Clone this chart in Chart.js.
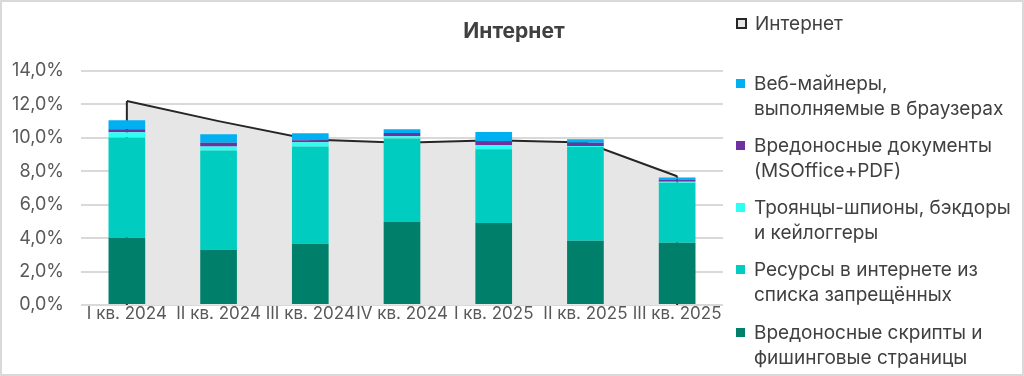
<!DOCTYPE html>
<html><head><meta charset="utf-8">
<script src="https://cdn.jsdelivr.net/npm/chart.js@4"></script>
<style>
html,body{margin:0;padding:0;background:#fff;}
#wrap{position:relative;width:1024px;height:376px;box-sizing:border-box;border:2px solid #d9d9d9;overflow:hidden;font-family:Inter,"Open Sans",sans-serif;}
#c{position:absolute;left:-2px;top:-2px;}
#title{position:absolute;left:0;width:1024px;top:16px;text-align:center;font-weight:bold;font-size:21px;color:#404040;}
#legend{position:absolute;left:734px;top:0;width:290px;}
.li{position:absolute;left:0;display:flex;align-items:flex-start;font-size:19px;line-height:25px;color:#404040;white-space:nowrap;}
.sw{width:9px;height:9px;margin-top:8px;margin-right:9px;flex:none;box-sizing:border-box;}
</style></head>
<body><div id="wrap"><canvas id="c" width="1024" height="376"></canvas><div id="title">Интернет</div><div id="legend"></div></div>
<script>
const categories = ['I кв. 2024','II кв. 2024','III кв. 2024','IV кв. 2024','I кв. 2025','II кв. 2025','III кв. 2025'];
const internet = [12.2, 11.0, 9.9, 9.7, 9.86, 9.72, 7.7];
const scripts  = [4.02, 3.31, 3.67, 4.96, 4.90, 3.84, 3.72];
const blocked  = [6.00, 5.93, 5.81, 5.00, 4.42, 5.62, 3.59];
const trojans  = [0.31, 0.24, 0.26, 0.14, 0.24, 0.06, 0.06];
const docs     = [0.18, 0.22, 0.12, 0.19, 0.24, 0.18, 0.14];
const miners   = [0.54, 0.51, 0.41, 0.22, 0.55, 0.22, 0.12];
const yTicks = [0, 2, 4, 6, 8, 10, 12, 14];

const seriesNames = {
  internet: 'Интернет',
  miners: 'Веб-майнеры,\nвыполняемые в браузерах',
  docs: 'Вредоносные документы\n(MSOffice+PDF)',
  trojans: 'Троянцы-шпионы, бэкдоры\nи кейлоггеры',
  blocked: 'Ресурсы в интернете из\nсписка запрещённых',
  scripts: 'Вредоносные скрипты и\nфишинговые страницы'
};
const colors = {internet:'#E7E6E6', miners:'#00B0F0', docs:'#7030A0', trojans:'#2EFFF2', blocked:'#00CCBF', scripts:'#00806B'};

const FONT = 'Inter, "Open Sans", sans-serif';

const edgePlugin = {
  id: 'edges',
  afterDatasetDraw(chart, args) {
    if (args.index !== 0) return;
    const meta = chart.getDatasetMeta(0);
    const pts = meta.data;
    const base = chart.scales.y.getPixelForValue(0);
    const ctx = chart.ctx;
    ctx.save();
    ctx.strokeStyle = '#262626';
    ctx.lineWidth = 2;
    [pts[0], pts[pts.length-1]].forEach(p => {
      ctx.beginPath(); ctx.moveTo(p.x, p.y); ctx.lineTo(p.x, base); ctx.stroke();
    });
    ctx.restore();
  }
};

function bar(key, data) {
  return {type:'bar', label: seriesNames[key], data, backgroundColor: colors[key], stack:'s', order:1,
          barPercentage:0.4, categoryPercentage:1.0, borderWidth:0};
}

new Chart(document.getElementById('c'), {
  data: {
    labels: categories,
    datasets: [
      {type:'line', label: seriesNames.internet, data: internet, stack:'area', order:10,
       fill:'origin', backgroundColor: colors.internet, borderColor:'#262626', borderWidth:2,
       pointRadius:0, tension:0},
      bar('scripts', scripts),
      bar('blocked', blocked),
      bar('trojans', trojans),
      bar('docs', docs),
      bar('miners', miners)
    ]
  },
  options: {
    responsive:false, animation:false,
    layout:{padding:{top:71, left:0, right:301, bottom:0}},
    plugins:{legend:{display:false}, tooltip:{enabled:false}, title:{display:false}},
    scales:{
      x:{stacked:true, grid:{display:false}, border:{display:false},
         ticks:{color:'#595959', font:{family:FONT, size:17}, padding:-9, maxRotation:0, autoSkip:false},
         afterFit(s){ s.height = 71; }},
      y:{stacked:true, min:0, max:14,
         afterBuildTicks(s){ s.ticks = yTicks.map(v=>({value:v})); },
         grid:{color:'#d9d9d9', lineWidth:2, drawTicks:false}, border:{display:false},
         ticks:{color:'#595959', font:{family:FONT, size:18}, padding:17,
                callback:v=>v.toFixed(1).replace('.', ',') + '%'},
         afterFit(s){ s.width = 81; }}
    }
  },
  plugins:[edgePlugin]
});

// HTML legend
const legendOrder = [['internet',9],['miners',69],['docs',131],['trojans',193],['blocked',255],['scripts',318]];
const lg = document.getElementById('legend');
legendOrder.forEach(([k, top]) => {
  const d = document.createElement('div'); d.className='li'; d.style.top = top + 'px';
  const sw = document.createElement('div'); sw.className='sw'; sw.style.background = colors[k];
  if (k === 'internet') { sw.style.border = '2px solid #262626'; sw.style.width='11px'; sw.style.height='11px'; sw.style.marginTop='7px'; sw.style.marginRight='8px'; }
  const t = document.createElement('div'); t.innerHTML = seriesNames[k].replace('\n','<br>');
  d.appendChild(sw); d.appendChild(t); lg.appendChild(d);
});
</script></body></html>
